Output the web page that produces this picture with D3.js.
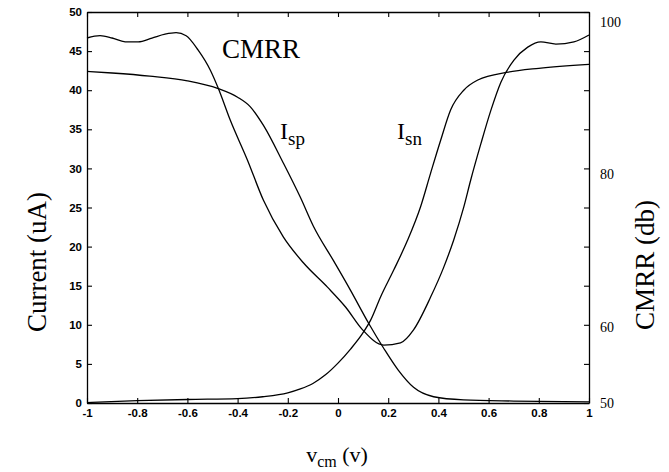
<!DOCTYPE html>
<html>
<head>
<meta charset="utf-8">
<script src="https://cdn.jsdelivr.net/npm/d3@7"></script>
<style>
  body { margin: 0; background: #fff; }
  svg { display: block; }
  .tick text { fill: #000; }
</style>
</head>
<body>
<svg id="chart" width="669" height="472"></svg>
<script>
// ---- Data ----
const ispV = [-1, -0.9, -0.75, -0.6, -0.477, -0.4, -0.35, -0.297, -0.218, -0.15, -0.098, -0.018, 0.05, 0.122, 0.182, 0.24, 0.301, 0.381, 0.5, 0.7, 1];
const ispI = [42.4, 42.2, 41.8, 41.2, 40.2, 39.1, 37.9, 35.5, 30.7, 26.3, 22.6, 18.2, 14.4, 10.2, 7.0, 4.2, 2.0, 0.8, 0.4, 0.25, 0.15];

const isnV = [-1, -0.8, -0.6, -0.4, -0.3, -0.2, -0.15, -0.1, -0.05, 0, 0.05, 0.098, 0.13, 0.17, 0.222, 0.277, 0.329, 0.369, 0.409, 0.449, 0.501, 0.557, 0.677, 0.8, 1];
const isnI = [0.05, 0.3, 0.45, 0.55, 0.8, 1.3, 1.8, 2.5, 3.6, 5.1, 6.9, 8.9, 10.6, 13.6, 17.0, 20.8, 25.1, 29.4, 33.6, 37.5, 40.0, 41.3, 42.3, 42.8, 43.3];

const cmrrV = [-1, -0.948, -0.9, -0.848, -0.796, -0.741, -0.689, -0.645, -0.605, -0.557, -0.509, -0.477, -0.429, -0.361, -0.297, -0.218, -0.138, -0.042, 0.03, 0.098, 0.182, 0.249, 0.301, 0.369, 0.421, 0.461, 0.501, 0.529, 0.569, 0.609, 0.649, 0.701, 0.756, 0.808, 0.868, 0.94, 1];
const cmrrDb = [97.9, 98.2, 97.9, 97.4, 97.4, 97.9, 98.4, 98.6, 98.2, 96.3, 93.7, 91.3, 87.1, 81.9, 76.6, 71.8, 68.4, 65.2, 62.6, 59.6, 57.6, 57.9, 59.6, 63.9, 67.8, 71.4, 75.7, 79.3, 84.0, 88.4, 92.1, 95.0, 96.7, 97.4, 97.1, 97.4, 98.3];

const xTicks = [-1, -0.8, -0.6, -0.4, -0.2, 0, 0.2, 0.4, 0.6, 0.8, 1];
const yLeftTicks = [0, 5, 10, 15, 20, 25, 30, 35, 40, 45, 50];
const yRightTicks = [50, 60, 80, 100];

// ---- Layout ----
const L = 87, R = 589, T = 12, B = 403;
const svg = d3.select("#chart");

const x = d3.scaleLinear().domain([-1, 1]).range([L, R]);
const yL = d3.scaleLinear().domain([0, 50]).range([B, T]);
const yR = d3.scaleLinear().domain([50, 100]).range([B, 22]);

const tickFont = "bold 11.5px 'Liberation Sans', Arial, sans-serif";

// bottom axis
const gx = svg.append("g").attr("transform", `translate(0,${B})`)
  .call(d3.axisBottom(x).tickValues(xTicks).tickSizeInner(-5).tickSizeOuter(0).tickPadding(6)
    .tickFormat(d => String(Math.round(d * 10) / 10)));
gx.selectAll("text").style("font", tickFont);

// top axis
svg.append("g").attr("transform", `translate(0,${T})`)
  .call(d3.axisTop(x).tickValues(xTicks).tickSizeInner(-5).tickSizeOuter(0).tickFormat(""));

// left axis
const gy = svg.append("g").attr("transform", `translate(${L},0)`)
  .call(d3.axisLeft(yL).tickValues(yLeftTicks).tickSizeInner(-5).tickSizeOuter(0).tickPadding(5));
gy.selectAll("text").style("font", tickFont);

// right axis ticks (same positions as left)
svg.append("g").attr("transform", `translate(${R},0)`)
  .call(d3.axisRight(yL).tickValues(yLeftTicks).tickSizeInner(-5).tickSizeOuter(0).tickFormat(""));

// right axis labels (CMRR dB)
const gr = svg.append("g").attr("transform", `translate(${R},0)`)
  .call(d3.axisRight(yR).tickValues(yRightTicks).tickSize(0).tickPadding(11));
gr.select(".domain").remove();
gr.selectAll("text").style("font", "14px 'Liberation Serif', 'Times New Roman', serif");

svg.selectAll(".domain").attr("stroke-width", 1.3);
svg.selectAll(".tick line").attr("stroke-width", 1.1);

// ---- Curves ----
const lineOf = (vs, ys, ysc) => d3.line().x((d, i) => x(vs[i])).y((d, i) => ysc(ys[i])).curve(d3.curveMonotoneX)(vs);

svg.append("path").attr("d", lineOf(ispV, ispI, yL)).attr("fill", "none").attr("stroke", "#000").attr("stroke-width", 1.3);
svg.append("path").attr("d", lineOf(isnV, isnI, yL)).attr("fill", "none").attr("stroke", "#000").attr("stroke-width", 1.3);
svg.append("path").attr("d", lineOf(cmrrV, cmrrDb, yR)).attr("fill", "none").attr("stroke", "#000").attr("stroke-width", 1.3);

// ---- Labels ----
const serif = "'Liberation Serif', 'Times New Roman', serif";

svg.append("text").attr("x", 222).attr("y", 58).style("font-family", serif).style("font-size", "27px").text("CMRR");

function sub(xp, yp, main, s) {
  const t = svg.append("text").attr("x", xp).attr("y", yp).style("font-family", serif).style("font-size", "24px");
  t.append("tspan").text(main);
  t.append("tspan").attr("dy", 6).style("font-size", "19px").text(s);
}
sub(280, 139, "I", "sp");
sub(397, 139, "I", "sn");

// x title
const xt = svg.append("text").attr("x", 337).attr("y", 462).attr("text-anchor", "middle")
  .style("font-family", serif).style("font-size", "22px");
xt.append("tspan").text("v");
xt.append("tspan").attr("dy", 5).style("font-size", "16px").text("cm");
xt.append("tspan").attr("dy", -5).text(" (v)");

// y titles
svg.append("text").attr("transform", "translate(46,262) rotate(-90)").attr("text-anchor", "middle")
  .style("font-family", serif).style("font-size", "27px").text("Current (uA)");
svg.append("text").attr("transform", "translate(654,265) rotate(-90)").attr("text-anchor", "middle")
  .style("font-family", serif).style("font-size", "27px").text("CMRR (db)");
</script>
</body>
</html>
